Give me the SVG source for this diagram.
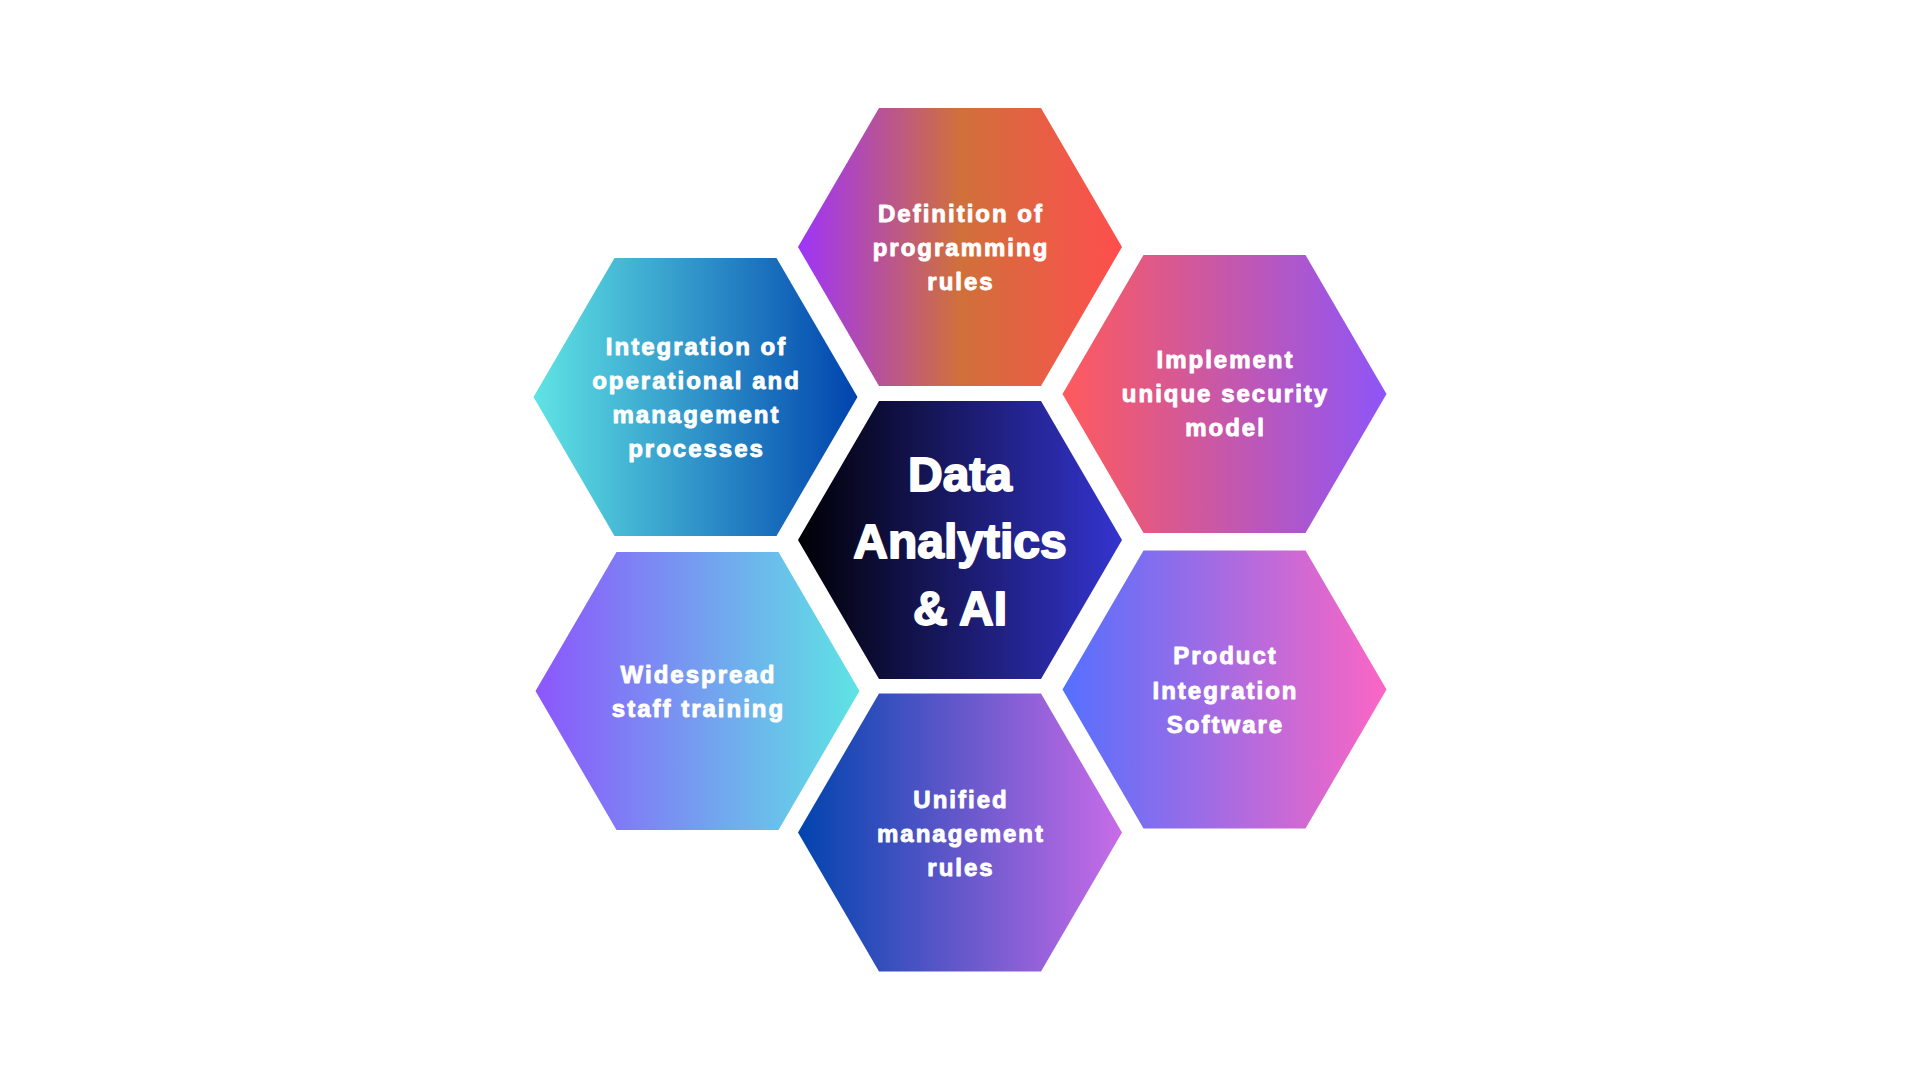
<svg xmlns="http://www.w3.org/2000/svg" xmlns:xlink="http://www.w3.org/1999/xlink" width="1920" height="1080" viewBox="0 0 1920 1080">
  <style>
    .lbl { font-family: "Liberation Sans", Arial, Helvetica, sans-serif; font-weight: bold; font-size: 24px; letter-spacing: 2px; fill: #ffffff; stroke: #ffffff; stroke-width: 0.9px; stroke-linejoin: round; text-anchor: middle; }
    .core { font-family: "Liberation Sans", Arial, Helvetica, sans-serif; font-weight: bold; font-size: 48px; letter-spacing: 0px; fill: #ffffff; stroke: #ffffff; stroke-width: 1.8px; stroke-linejoin: round; text-anchor: middle; }
  </style>
  <defs>
    <path id="hex" d="M-162,0 L-81,-139 L81,-139 L162,0 L81,139 L-81,139 Z"/>
    <linearGradient id="gTop" x1="0" y1="0" x2="1" y2="0">
      <stop offset="0" stop-color="#9E34FA"/>
      <stop offset="0.5" stop-color="#D0703A"/>
      <stop offset="1" stop-color="#FF4E4E"/>
    </linearGradient>
    <linearGradient id="gCore" x1="0" y1="0" x2="1" y2="0">
      <stop offset="0" stop-color="#000004"/>
      <stop offset="1" stop-color="#3434D0"/>
    </linearGradient>
    <linearGradient id="gUL" x1="0" y1="0" x2="1" y2="0">
      <stop offset="0" stop-color="#60E4E4"/>
      <stop offset="1" stop-color="#0044AE"/>
    </linearGradient>
    <linearGradient id="gUR" x1="0" y1="0" x2="1" y2="0">
      <stop offset="0" stop-color="#FF5A5C"/>
      <stop offset="1" stop-color="#8E55F8"/>
    </linearGradient>
    <linearGradient id="gLL" x1="0" y1="0" x2="1" y2="0">
      <stop offset="0" stop-color="#8C56FC"/>
      <stop offset="1" stop-color="#5EE4E4"/>
    </linearGradient>
    <linearGradient id="gLR" x1="0" y1="0" x2="1" y2="0">
      <stop offset="0" stop-color="#5470FF"/>
      <stop offset="1" stop-color="#FC66C4"/>
    </linearGradient>
    <linearGradient id="gBot" x1="0" y1="0" x2="1" y2="0">
      <stop offset="0" stop-color="#0044AE"/>
      <stop offset="1" stop-color="#C86CE8"/>
    </linearGradient>
  </defs>
  <rect x="0" y="0" width="1920" height="1080" fill="#ffffff"/>

  <g id="connectors"/>

  <g id="node-core">
    <use xlink:href="#hex" href="#hex" transform="translate(960,540)" fill="url(#gCore)"/>
    <text class="core" x="960" y="491">Data</text>
    <text class="core" x="960" y="558">Analytics</text>
    <text class="core" x="960" y="625">&amp; AI</text>
  </g>

  <g id="node-top">
    <use xlink:href="#hex" href="#hex" transform="translate(960,247)" fill="url(#gTop)"/>
    <text class="lbl" x="961" y="222">Definition of</text>
    <text class="lbl" x="961" y="256">programming</text>
    <text class="lbl" x="961" y="290">rules</text>
  </g>

  <g id="node-upper-left">
    <use xlink:href="#hex" href="#hex" transform="translate(695.5,397)" fill="url(#gUL)"/>
    <text class="lbl" x="696.5" y="355">Integration of</text>
    <text class="lbl" x="696.5" y="389">operational and</text>
    <text class="lbl" x="696.5" y="423">management</text>
    <text class="lbl" x="696.5" y="457">processes</text>
  </g>

  <g id="node-upper-right">
    <use xlink:href="#hex" href="#hex" transform="translate(1224.5,394)" fill="url(#gUR)"/>
    <text class="lbl" x="1225.5" y="368">Implement</text>
    <text class="lbl" x="1225.5" y="402">unique security</text>
    <text class="lbl" x="1225.5" y="436">model</text>
  </g>

  <g id="node-lower-left">
    <use xlink:href="#hex" href="#hex" transform="translate(697.5,691)" fill="url(#gLL)"/>
    <text class="lbl" x="698.5" y="683">Widespread</text>
    <text class="lbl" x="698.5" y="717">staff training</text>
  </g>

  <g id="node-lower-right">
    <use xlink:href="#hex" href="#hex" transform="translate(1224.5,689.5)" fill="url(#gLR)"/>
    <text class="lbl" x="1225.5" y="664">Product</text>
    <text class="lbl" x="1225.5" y="699">Integration</text>
    <text class="lbl" x="1225.5" y="733">Software</text>
  </g>

  <g id="node-bottom">
    <use xlink:href="#hex" href="#hex" transform="translate(960,832.5)" fill="url(#gBot)"/>
    <text class="lbl" x="961" y="808">Unified</text>
    <text class="lbl" x="961" y="842">management</text>
    <text class="lbl" x="961" y="876">rules</text>
  </g>
</svg>
